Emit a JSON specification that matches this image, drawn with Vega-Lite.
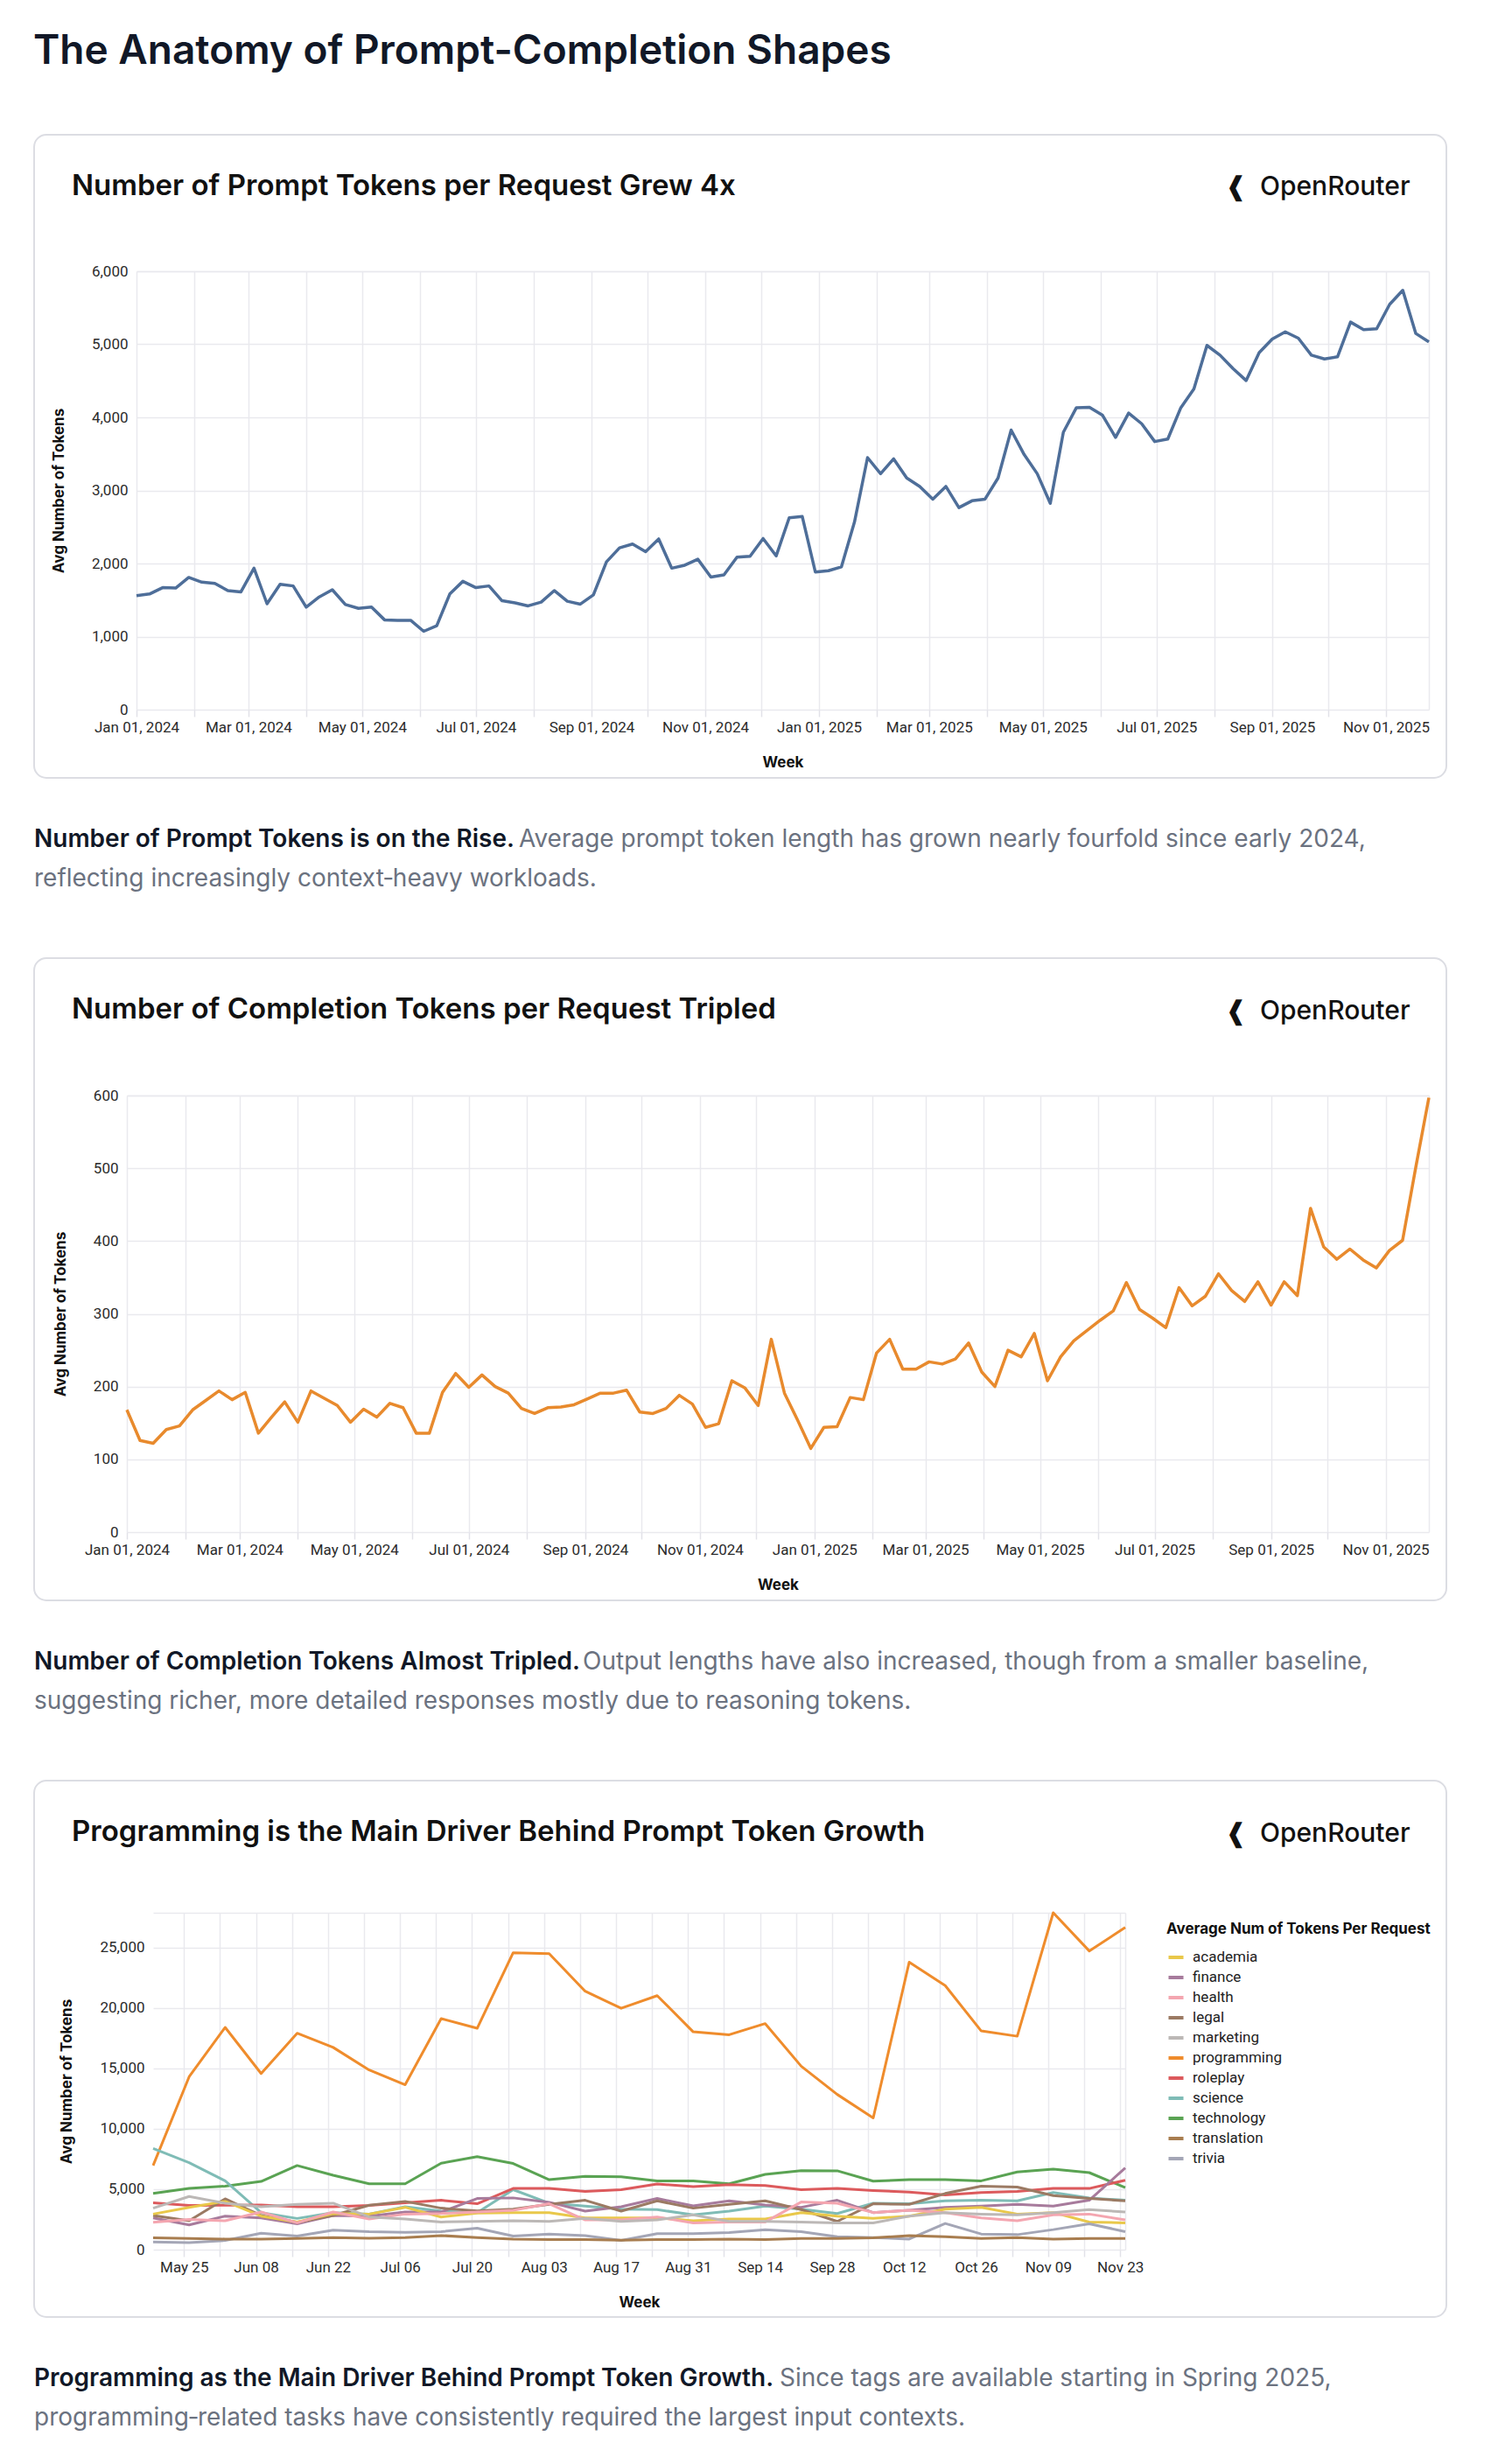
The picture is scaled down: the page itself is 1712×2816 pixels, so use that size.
{
  "$schema": "https://vega.github.io/schema/vega-lite/v6.json",
  "background": "white",
  "padding": {"left": 38, "top": 36, "right": 20, "bottom": 8},
  "title": {"text": "The Anatomy of Prompt-Completion Shapes", "anchor": "start", "frame": "bounds", "fontSize": 46, "font": "Inter", "fontWeight": 600, "color": "#111827", "offset": 70},
  "spacing": 56,
  "resolve": {"scale": {"color": "independent"}, "legend": {"color": "independent"}},
  "datasets": {
    "prompt": [
      {"week":"2024-01-01","tokens":1560},{"week":"2024-01-08","tokens":1583},{"week":"2024-01-15","tokens":1670},{"week":"2024-01-22","tokens":1664},{"week":"2024-01-29","tokens":1809},
      {"week":"2024-02-05","tokens":1745},{"week":"2024-02-12","tokens":1728},{"week":"2024-02-19","tokens":1629},{"week":"2024-02-26","tokens":1612},
      {"week":"2024-03-04","tokens":1936},{"week":"2024-03-11","tokens":1449},{"week":"2024-03-18","tokens":1716},{"week":"2024-03-25","tokens":1693},
      {"week":"2024-04-01","tokens":1403},{"week":"2024-04-08","tokens":1542},{"week":"2024-04-15","tokens":1641},{"week":"2024-04-22","tokens":1438},{"week":"2024-04-29","tokens":1386},
      {"week":"2024-05-06","tokens":1403},{"week":"2024-05-13","tokens":1229},{"week":"2024-05-20","tokens":1223},{"week":"2024-05-27","tokens":1223},
      {"week":"2024-06-03","tokens":1072},{"week":"2024-06-10","tokens":1148},{"week":"2024-06-17","tokens":1583},{"week":"2024-06-24","tokens":1756},
      {"week":"2024-07-01","tokens":1670},{"week":"2024-07-08","tokens":1693},{"week":"2024-07-15","tokens":1490},{"week":"2024-07-22","tokens":1461},{"week":"2024-07-29","tokens":1420},
      {"week":"2024-08-05","tokens":1472},{"week":"2024-08-12","tokens":1629},{"week":"2024-08-19","tokens":1484},{"week":"2024-08-26","tokens":1444},
      {"week":"2024-09-02","tokens":1571},{"week":"2024-09-09","tokens":2023},{"week":"2024-09-16","tokens":2214},{"week":"2024-09-23","tokens":2267},{"week":"2024-09-30","tokens":2162},
      {"week":"2024-10-07","tokens":2336},{"week":"2024-10-14","tokens":1936},{"week":"2024-10-21","tokens":1977},{"week":"2024-10-28","tokens":2058},
      {"week":"2024-11-04","tokens":1815},{"week":"2024-11-11","tokens":1844},{"week":"2024-11-18","tokens":2087},{"week":"2024-11-25","tokens":2099},
      {"week":"2024-12-02","tokens":2342},{"week":"2024-12-09","tokens":2104},{"week":"2024-12-16","tokens":2626},{"week":"2024-12-23","tokens":2643},{"week":"2024-12-30","tokens":1884},
      {"week":"2025-01-06","tokens":1901},{"week":"2025-01-13","tokens":1954},{"week":"2025-01-20","tokens":2568},{"week":"2025-01-27","tokens":3449},
      {"week":"2025-02-03","tokens":3229},{"week":"2025-02-10","tokens":3432},{"week":"2025-02-17","tokens":3171},{"week":"2025-02-24","tokens":3055},
      {"week":"2025-03-03","tokens":2881},{"week":"2025-03-10","tokens":3055},{"week":"2025-03-17","tokens":2765},{"week":"2025-03-24","tokens":2858},{"week":"2025-03-31","tokens":2881},
      {"week":"2025-04-07","tokens":3171},{"week":"2025-04-14","tokens":3826},{"week":"2025-04-21","tokens":3490},{"week":"2025-04-28","tokens":3229},
      {"week":"2025-05-05","tokens":2823},{"week":"2025-05-12","tokens":3797},{"week":"2025-05-19","tokens":4133},{"week":"2025-05-26","tokens":4139},
      {"week":"2025-06-02","tokens":4029},{"week":"2025-06-09","tokens":3727},{"week":"2025-06-16","tokens":4058},{"week":"2025-06-23","tokens":3913},{"week":"2025-06-30","tokens":3669},
      {"week":"2025-07-07","tokens":3704},{"week":"2025-07-14","tokens":4133},{"week":"2025-07-21","tokens":4388},{"week":"2025-07-28","tokens":4985},
      {"week":"2025-08-04","tokens":4852},{"week":"2025-08-11","tokens":4667},{"week":"2025-08-18","tokens":4504},{"week":"2025-08-25","tokens":4887},
      {"week":"2025-09-01","tokens":5072},{"week":"2025-09-08","tokens":5171},{"week":"2025-09-15","tokens":5084},{"week":"2025-09-22","tokens":4852},{"week":"2025-09-29","tokens":4800},
      {"week":"2025-10-06","tokens":4829},{"week":"2025-10-13","tokens":5304},{"week":"2025-10-20","tokens":5200},{"week":"2025-10-27","tokens":5212},
      {"week":"2025-11-03","tokens":5548},{"week":"2025-11-10","tokens":5739},{"week":"2025-11-17","tokens":5148},{"week":"2025-11-24","tokens":5032}
    ],
    "completion": [
      {"week":"2024-01-01","tokens":168},{"week":"2024-01-08","tokens":126},{"week":"2024-01-15","tokens":122},{"week":"2024-01-22","tokens":141},{"week":"2024-01-29","tokens":146},
      {"week":"2024-02-05","tokens":168},{"week":"2024-02-12","tokens":181},{"week":"2024-02-19","tokens":194},{"week":"2024-02-26","tokens":182},
      {"week":"2024-03-04","tokens":192},{"week":"2024-03-11","tokens":136},{"week":"2024-03-18","tokens":158},{"week":"2024-03-25","tokens":179},
      {"week":"2024-04-01","tokens":151},{"week":"2024-04-08","tokens":194},{"week":"2024-04-15","tokens":184},{"week":"2024-04-22","tokens":174},{"week":"2024-04-29","tokens":151},
      {"week":"2024-05-06","tokens":169},{"week":"2024-05-13","tokens":158},{"week":"2024-05-20","tokens":177},{"week":"2024-05-27","tokens":171},
      {"week":"2024-06-03","tokens":136},{"week":"2024-06-10","tokens":136},{"week":"2024-06-17","tokens":192},{"week":"2024-06-24","tokens":218},
      {"week":"2024-07-01","tokens":199},{"week":"2024-07-08","tokens":216},{"week":"2024-07-15","tokens":200},{"week":"2024-07-22","tokens":191},{"week":"2024-07-29","tokens":170},
      {"week":"2024-08-05","tokens":163},{"week":"2024-08-12","tokens":171},{"week":"2024-08-19","tokens":172},{"week":"2024-08-26","tokens":175},
      {"week":"2024-09-02","tokens":183},{"week":"2024-09-09","tokens":191},{"week":"2024-09-16","tokens":191},{"week":"2024-09-23","tokens":195},{"week":"2024-09-30","tokens":165},
      {"week":"2024-10-07","tokens":163},{"week":"2024-10-14","tokens":170},{"week":"2024-10-21","tokens":188},{"week":"2024-10-28","tokens":176},
      {"week":"2024-11-04","tokens":144},{"week":"2024-11-11","tokens":149},{"week":"2024-11-18","tokens":208},{"week":"2024-11-25","tokens":198},
      {"week":"2024-12-02","tokens":174},{"week":"2024-12-09","tokens":265},{"week":"2024-12-16","tokens":191},{"week":"2024-12-23","tokens":154},{"week":"2024-12-30","tokens":115},
      {"week":"2025-01-06","tokens":144},{"week":"2025-01-13","tokens":145},{"week":"2025-01-20","tokens":185},{"week":"2025-01-27","tokens":182},
      {"week":"2025-02-03","tokens":246},{"week":"2025-02-10","tokens":265},{"week":"2025-02-17","tokens":224},{"week":"2025-02-24","tokens":224},
      {"week":"2025-03-03","tokens":234},{"week":"2025-03-10","tokens":231},{"week":"2025-03-17","tokens":238},{"week":"2025-03-24","tokens":260},{"week":"2025-03-31","tokens":220},
      {"week":"2025-04-07","tokens":200},{"week":"2025-04-14","tokens":250},{"week":"2025-04-21","tokens":241},{"week":"2025-04-28","tokens":273},
      {"week":"2025-05-05","tokens":208},{"week":"2025-05-12","tokens":241},{"week":"2025-05-19","tokens":263},{"week":"2025-05-26","tokens":277},
      {"week":"2025-06-02","tokens":291},{"week":"2025-06-09","tokens":304},{"week":"2025-06-16","tokens":343},{"week":"2025-06-23","tokens":306},{"week":"2025-06-30","tokens":294},
      {"week":"2025-07-07","tokens":281},{"week":"2025-07-14","tokens":336},{"week":"2025-07-21","tokens":311},{"week":"2025-07-28","tokens":324},
      {"week":"2025-08-04","tokens":355},{"week":"2025-08-11","tokens":332},{"week":"2025-08-18","tokens":317},{"week":"2025-08-25","tokens":344},
      {"week":"2025-09-01","tokens":312},{"week":"2025-09-08","tokens":344},{"week":"2025-09-15","tokens":325},{"week":"2025-09-22","tokens":445},{"week":"2025-09-29","tokens":392},
      {"week":"2025-10-06","tokens":375},{"week":"2025-10-13","tokens":389},{"week":"2025-10-20","tokens":374},{"week":"2025-10-27","tokens":363},
      {"week":"2025-11-03","tokens":387},{"week":"2025-11-10","tokens":401},{"week":"2025-11-17","tokens":501},{"week":"2025-11-24","tokens":597}
    ],
    "category": [
      {"w":"2025-05-19","c":"programming","v":6955},{"w":"2025-05-26","c":"programming","v":14300},{"w":"2025-06-02","c":"programming","v":18385},{"w":"2025-06-09","c":"programming","v":14567},{"w":"2025-06-16","c":"programming","v":17900},{"w":"2025-06-23","c":"programming","v":16730},{"w":"2025-06-30","c":"programming","v":14860},{"w":"2025-07-07","c":"programming","v":13640},{"w":"2025-07-14","c":"programming","v":19115},{"w":"2025-07-21","c":"programming","v":18310},{"w":"2025-07-28","c":"programming","v":24560},{"w":"2025-08-04","c":"programming","v":24490},{"w":"2025-08-11","c":"programming","v":21375},{"w":"2025-08-18","c":"programming","v":19965},{"w":"2025-08-25","c":"programming","v":21010},{"w":"2025-09-01","c":"programming","v":18020},{"w":"2025-09-08","c":"programming","v":17780},{"w":"2025-09-15","c":"programming","v":18700},{"w":"2025-09-22","c":"programming","v":15175},{"w":"2025-09-29","c":"programming","v":12840},{"w":"2025-10-06","c":"programming","v":10895},{"w":"2025-10-13","c":"programming","v":23785},{"w":"2025-10-20","c":"programming","v":21840},{"w":"2025-10-27","c":"programming","v":18090},{"w":"2025-11-03","c":"programming","v":17655},{"w":"2025-11-10","c":"programming","v":27870},{"w":"2025-11-17","c":"programming","v":24710},{"w":"2025-11-24","c":"programming","v":26650},
      {"w":"2025-05-19","c":"technology","v":4645},{"w":"2025-05-26","c":"technology","v":5060},{"w":"2025-06-02","c":"technology","v":5250},{"w":"2025-06-09","c":"technology","v":5640},{"w":"2025-06-16","c":"technology","v":6955},{"w":"2025-06-23","c":"technology","v":6150},{"w":"2025-06-30","c":"technology","v":5450},{"w":"2025-07-07","c":"technology","v":5450},{"w":"2025-07-14","c":"technology","v":7150},{"w":"2025-07-21","c":"technology","v":7685},{"w":"2025-07-28","c":"technology","v":7125},{"w":"2025-08-04","c":"technology","v":5790},{"w":"2025-08-11","c":"technology","v":6055},{"w":"2025-08-18","c":"technology","v":6030},{"w":"2025-08-25","c":"technology","v":5690},{"w":"2025-09-01","c":"technology","v":5690},{"w":"2025-09-08","c":"technology","v":5450},{"w":"2025-09-15","c":"technology","v":6225},{"w":"2025-09-22","c":"technology","v":6540},{"w":"2025-09-29","c":"technology","v":6520},{"w":"2025-10-06","c":"technology","v":5665},{"w":"2025-10-13","c":"technology","v":5790},{"w":"2025-10-20","c":"technology","v":5790},{"w":"2025-10-27","c":"technology","v":5690},{"w":"2025-11-03","c":"technology","v":6420},{"w":"2025-11-10","c":"technology","v":6665},{"w":"2025-11-17","c":"technology","v":6370},{"w":"2025-11-24","c":"technology","v":5130},
      {"w":"2025-05-19","c":"science","v":8365},{"w":"2025-05-26","c":"science","v":7200},{"w":"2025-06-02","c":"science","v":5690},{"w":"2025-06-09","c":"science","v":3065},{"w":"2025-06-16","c":"science","v":2580},{"w":"2025-06-23","c":"science","v":3065},{"w":"2025-06-30","c":"science","v":2940},{"w":"2025-07-07","c":"science","v":3550},{"w":"2025-07-14","c":"science","v":3185},{"w":"2025-07-21","c":"science","v":3065},{"w":"2025-07-28","c":"science","v":4960},{"w":"2025-08-04","c":"science","v":3840},{"w":"2025-08-11","c":"science","v":3600},{"w":"2025-08-18","c":"science","v":3355},{"w":"2025-08-25","c":"science","v":3310},{"w":"2025-09-01","c":"science","v":2870},{"w":"2025-09-08","c":"science","v":3185},{"w":"2025-09-15","c":"science","v":3600},{"w":"2025-09-22","c":"science","v":3355},{"w":"2025-09-29","c":"science","v":2990},{"w":"2025-10-06","c":"science","v":3840},{"w":"2025-10-13","c":"science","v":3795},{"w":"2025-10-20","c":"science","v":4035},{"w":"2025-10-27","c":"science","v":4085},{"w":"2025-11-03","c":"science","v":4035},{"w":"2025-11-10","c":"science","v":4720},{"w":"2025-11-17","c":"science","v":4280},{"w":"2025-11-24","c":"science","v":4085},
      {"w":"2025-05-19","c":"roleplay","v":3865},{"w":"2025-05-26","c":"roleplay","v":3650},{"w":"2025-06-02","c":"roleplay","v":3670},{"w":"2025-06-09","c":"roleplay","v":3695},{"w":"2025-06-16","c":"roleplay","v":3550},{"w":"2025-06-23","c":"roleplay","v":3550},{"w":"2025-06-30","c":"roleplay","v":3650},{"w":"2025-07-07","c":"roleplay","v":3865},{"w":"2025-07-14","c":"roleplay","v":4085},{"w":"2025-07-21","c":"roleplay","v":3795},{"w":"2025-07-28","c":"roleplay","v":5060},{"w":"2025-08-04","c":"roleplay","v":5060},{"w":"2025-08-11","c":"roleplay","v":4815},{"w":"2025-08-18","c":"roleplay","v":4960},{"w":"2025-08-25","c":"roleplay","v":5425},{"w":"2025-09-01","c":"roleplay","v":5205},{"w":"2025-09-08","c":"roleplay","v":5375},{"w":"2025-09-15","c":"roleplay","v":5300},{"w":"2025-09-22","c":"roleplay","v":4960},{"w":"2025-09-29","c":"roleplay","v":5060},{"w":"2025-10-06","c":"roleplay","v":4890},{"w":"2025-10-13","c":"roleplay","v":4765},{"w":"2025-10-20","c":"roleplay","v":4525},{"w":"2025-10-27","c":"roleplay","v":4720},{"w":"2025-11-03","c":"roleplay","v":4815},{"w":"2025-11-10","c":"roleplay","v":5060},{"w":"2025-11-17","c":"roleplay","v":5060},{"w":"2025-11-24","c":"roleplay","v":5740},
      {"w":"2025-05-19","c":"finance","v":2625},{"w":"2025-05-26","c":"finance","v":2040},{"w":"2025-06-02","c":"finance","v":2770},{"w":"2025-06-09","c":"finance","v":2625},{"w":"2025-06-16","c":"finance","v":2140},{"w":"2025-06-23","c":"finance","v":2820},{"w":"2025-06-30","c":"finance","v":2770},{"w":"2025-07-07","c":"finance","v":3115},{"w":"2025-07-14","c":"finance","v":3115},{"w":"2025-07-21","c":"finance","v":4230},{"w":"2025-07-28","c":"finance","v":4280},{"w":"2025-08-04","c":"finance","v":3915},{"w":"2025-08-11","c":"finance","v":3185},{"w":"2025-08-18","c":"finance","v":3550},{"w":"2025-08-25","c":"finance","v":4230},{"w":"2025-09-01","c":"finance","v":3625},{"w":"2025-09-08","c":"finance","v":4035},{"w":"2025-09-15","c":"finance","v":3695},{"w":"2025-09-22","c":"finance","v":3500},{"w":"2025-09-29","c":"finance","v":4085},{"w":"2025-10-06","c":"finance","v":3065},{"w":"2025-10-13","c":"finance","v":3260},{"w":"2025-10-20","c":"finance","v":3500},{"w":"2025-10-27","c":"finance","v":3600},{"w":"2025-11-03","c":"finance","v":3745},{"w":"2025-11-10","c":"finance","v":3600},{"w":"2025-11-17","c":"finance","v":4085},{"w":"2025-11-24","c":"finance","v":6760},
      {"w":"2025-05-19","c":"legal","v":2820},{"w":"2025-05-26","c":"legal","v":2385},{"w":"2025-06-02","c":"legal","v":4205},{"w":"2025-06-09","c":"legal","v":2820},{"w":"2025-06-16","c":"legal","v":2260},{"w":"2025-06-23","c":"legal","v":2820},{"w":"2025-06-30","c":"legal","v":3670},{"w":"2025-07-07","c":"legal","v":3990},{"w":"2025-07-14","c":"legal","v":3430},{"w":"2025-07-21","c":"legal","v":3210},{"w":"2025-07-28","c":"legal","v":3355},{"w":"2025-08-04","c":"legal","v":3745},{"w":"2025-08-11","c":"legal","v":4085},{"w":"2025-08-18","c":"legal","v":3185},{"w":"2025-08-25","c":"legal","v":4035},{"w":"2025-09-01","c":"legal","v":3430},{"w":"2025-09-08","c":"legal","v":3745},{"w":"2025-09-15","c":"legal","v":4035},{"w":"2025-09-22","c":"legal","v":3310},{"w":"2025-09-29","c":"legal","v":2335},{"w":"2025-10-06","c":"legal","v":3795},{"w":"2025-10-13","c":"legal","v":3745},{"w":"2025-10-20","c":"legal","v":4645},{"w":"2025-10-27","c":"legal","v":5250},{"w":"2025-11-03","c":"legal","v":5180},{"w":"2025-11-10","c":"legal","v":4475},{"w":"2025-11-17","c":"legal","v":4230},{"w":"2025-11-24","c":"legal","v":4035},
      {"w":"2025-05-19","c":"academia","v":2940},{"w":"2025-05-26","c":"academia","v":3500},{"w":"2025-06-02","c":"academia","v":3990},{"w":"2025-06-09","c":"academia","v":2770},{"w":"2025-06-16","c":"academia","v":2285},{"w":"2025-06-23","c":"academia","v":2990},{"w":"2025-06-30","c":"academia","v":2940},{"w":"2025-07-07","c":"academia","v":3500},{"w":"2025-07-14","c":"academia","v":2700},{"w":"2025-07-21","c":"academia","v":3015},{"w":"2025-07-28","c":"academia","v":3065},{"w":"2025-08-04","c":"academia","v":3065},{"w":"2025-08-11","c":"academia","v":2625},{"w":"2025-08-18","c":"academia","v":2625},{"w":"2025-08-25","c":"academia","v":2625},{"w":"2025-09-01","c":"academia","v":2385},{"w":"2025-09-08","c":"academia","v":2530},{"w":"2025-09-15","c":"academia","v":2530},{"w":"2025-09-22","c":"academia","v":3065},{"w":"2025-09-29","c":"academia","v":2770},{"w":"2025-10-06","c":"academia","v":2580},{"w":"2025-10-13","c":"academia","v":2770},{"w":"2025-10-20","c":"academia","v":3355},{"w":"2025-10-27","c":"academia","v":3500},{"w":"2025-11-03","c":"academia","v":2940},{"w":"2025-11-10","c":"academia","v":3065},{"w":"2025-11-17","c":"academia","v":2285},{"w":"2025-11-24","c":"academia","v":2215},
      {"w":"2025-05-19","c":"health","v":2260},{"w":"2025-05-26","c":"health","v":2505},{"w":"2025-06-02","c":"health","v":2385},{"w":"2025-06-09","c":"health","v":3115},{"w":"2025-06-16","c":"health","v":2215},{"w":"2025-06-23","c":"health","v":3115},{"w":"2025-06-30","c":"health","v":2530},{"w":"2025-07-07","c":"health","v":2940},{"w":"2025-07-14","c":"health","v":2990},{"w":"2025-07-21","c":"health","v":3115},{"w":"2025-07-28","c":"health","v":3260},{"w":"2025-08-04","c":"health","v":3795},{"w":"2025-08-11","c":"health","v":2455},{"w":"2025-08-18","c":"health","v":2455},{"w":"2025-08-25","c":"health","v":2700},{"w":"2025-09-01","c":"health","v":2215},{"w":"2025-09-08","c":"health","v":2285},{"w":"2025-09-15","c":"health","v":2285},{"w":"2025-09-22","c":"health","v":3940},{"w":"2025-09-29","c":"health","v":3840},{"w":"2025-10-06","c":"health","v":3065},{"w":"2025-10-13","c":"health","v":3260},{"w":"2025-10-20","c":"health","v":3065},{"w":"2025-10-27","c":"health","v":2625},{"w":"2025-11-03","c":"health","v":2385},{"w":"2025-11-10","c":"health","v":2870},{"w":"2025-11-17","c":"health","v":2940},{"w":"2025-11-24","c":"health","v":2455},
      {"w":"2025-05-19","c":"marketing","v":3430},{"w":"2025-05-26","c":"marketing","v":4400},{"w":"2025-06-02","c":"marketing","v":3840},{"w":"2025-06-09","c":"marketing","v":3550},{"w":"2025-06-16","c":"marketing","v":3745},{"w":"2025-06-23","c":"marketing","v":3840},{"w":"2025-06-30","c":"marketing","v":2700},{"w":"2025-07-07","c":"marketing","v":2530},{"w":"2025-07-14","c":"marketing","v":2285},{"w":"2025-07-21","c":"marketing","v":2335},{"w":"2025-07-28","c":"marketing","v":2385},{"w":"2025-08-04","c":"marketing","v":2335},{"w":"2025-08-11","c":"marketing","v":2580},{"w":"2025-08-18","c":"marketing","v":2335},{"w":"2025-08-25","c":"marketing","v":2455},{"w":"2025-09-01","c":"marketing","v":2870},{"w":"2025-09-08","c":"marketing","v":2335},{"w":"2025-09-15","c":"marketing","v":2335},{"w":"2025-09-22","c":"marketing","v":2285},{"w":"2025-09-29","c":"marketing","v":2215},{"w":"2025-10-06","c":"marketing","v":2215},{"w":"2025-10-13","c":"marketing","v":2770},{"w":"2025-10-20","c":"marketing","v":3065},{"w":"2025-10-27","c":"marketing","v":2940},{"w":"2025-11-03","c":"marketing","v":2870},{"w":"2025-11-10","c":"marketing","v":3065},{"w":"2025-11-17","c":"marketing","v":3310},{"w":"2025-11-24","c":"marketing","v":3115},
      {"w":"2025-05-19","c":"trivia","v":630},{"w":"2025-05-26","c":"trivia","v":585},{"w":"2025-06-02","c":"trivia","v":755},{"w":"2025-06-09","c":"trivia","v":1360},{"w":"2025-06-16","c":"trivia","v":1120},{"w":"2025-06-23","c":"trivia","v":1605},{"w":"2025-06-30","c":"trivia","v":1485},{"w":"2025-07-07","c":"trivia","v":1435},{"w":"2025-07-14","c":"trivia","v":1485},{"w":"2025-07-21","c":"trivia","v":1775},{"w":"2025-07-28","c":"trivia","v":1120},{"w":"2025-08-04","c":"trivia","v":1290},{"w":"2025-08-11","c":"trivia","v":1165},{"w":"2025-08-18","c":"trivia","v":755},{"w":"2025-08-25","c":"trivia","v":1315},{"w":"2025-09-01","c":"trivia","v":1315},{"w":"2025-09-08","c":"trivia","v":1410},{"w":"2025-09-15","c":"trivia","v":1655},{"w":"2025-09-22","c":"trivia","v":1485},{"w":"2025-09-29","c":"trivia","v":1070},{"w":"2025-10-06","c":"trivia","v":995},{"w":"2025-10-13","c":"trivia","v":875},{"w":"2025-10-20","c":"trivia","v":2165},{"w":"2025-10-27","c":"trivia","v":1290},{"w":"2025-11-03","c":"trivia","v":1240},{"w":"2025-11-10","c":"trivia","v":1655},{"w":"2025-11-17","c":"trivia","v":2140},{"w":"2025-11-24","c":"trivia","v":1485},
      {"w":"2025-05-19","c":"translation","v":970},{"w":"2025-05-26","c":"translation","v":925},{"w":"2025-06-02","c":"translation","v":875},{"w":"2025-06-09","c":"translation","v":875},{"w":"2025-06-16","c":"translation","v":925},{"w":"2025-06-23","c":"translation","v":995},{"w":"2025-06-30","c":"translation","v":950},{"w":"2025-07-07","c":"translation","v":995},{"w":"2025-07-14","c":"translation","v":1165},{"w":"2025-07-21","c":"translation","v":995},{"w":"2025-07-28","c":"translation","v":875},{"w":"2025-08-04","c":"translation","v":825},{"w":"2025-08-11","c":"translation","v":825},{"w":"2025-08-18","c":"translation","v":780},{"w":"2025-08-25","c":"translation","v":825},{"w":"2025-09-01","c":"translation","v":825},{"w":"2025-09-08","c":"translation","v":875},{"w":"2025-09-15","c":"translation","v":825},{"w":"2025-09-22","c":"translation","v":925},{"w":"2025-09-29","c":"translation","v":925},{"w":"2025-10-06","c":"translation","v":970},{"w":"2025-10-13","c":"translation","v":1165},{"w":"2025-10-20","c":"translation","v":1070},{"w":"2025-10-27","c":"translation","v":925},{"w":"2025-11-03","c":"translation","v":995},{"w":"2025-11-10","c":"translation","v":875},{"w":"2025-11-17","c":"translation","v":925},{"w":"2025-11-24","c":"translation","v":925}
    ]
  },
  "vconcat": [
    {
      "width": 1614, "height": 735,
      "view": {"stroke": "#dcdde3", "strokeWidth": 2, "cornerRadius": 14, "fill": "white"},
      "title": {"text": "Number of Prompt Tokens per Request Grew 4x", "anchor": "start", "frame": "group", "dx": 43, "offset": -76, "fontSize": 33, "font": "Inter", "fontWeight": 600, "color": "#111111"},
      "data": {"name": "prompt"},
      "layer": [
        {
          "mark": {"type": "line", "color": "#4e6e99", "strokeWidth": 3.5, "strokeJoin": "round"},
          "encoding": {
            "x": {"field": "week", "type": "temporal", "title": "Week",
              "scale": {"type": "utc", "nice": false, "range": [117, 1594]},
              "axis": {"orient": "bottom", "offset": -78, "grid": false, "domain": false, "tickCount": {"interval": "month", "step": 1}, "labelExpr": "utcmonth(datum.value) % 2 == 0 ? utcFormat(datum.value, '%b %d, %Y') : ''", "labelOverlap": false, "labelFlush": false, "tickSize": 8, "labelPadding": 4, "titlePadding": 24}},
            "y": {"field": "tokens", "type": "quantitative", "title": "Avg Number of Tokens",
              "scale": {"domain": [0, 6000], "nice": false, "range": [657, 156]},
              "axis": {"orient": "left", "offset": -117, "tickCount": 6, "format": ",d", "ticks": false, "domain": false, "grid": true, "labelPadding": 10, "titlePadding": 28}}
          }
        },
        {
          "mark": {"type": "line", "opacity": 0},
          "encoding": {
            "x": {"field": "week", "type": "temporal", "title": "\u2770\u2002OpenRouter",
              "axis": {"orient": "top", "offset": -156, "grid": true, "labels": false, "ticks": false, "domain": true, "tickCount": {"interval": "month", "step": 1}, "titleX": 1572, "titleAlign": "right", "titleBaseline": "middle", "titlePadding": 97, "titleFontSize": 30, "titleFontWeight": 500}},
            "y": {"field": "tokens", "type": "quantitative",
              "axis": {"orient": "right", "offset": -20, "labels": false, "ticks": false, "grid": false, "domain": true, "title": null}}
          }
        }
      ],
      "resolve": {"axis": {"x": "independent", "y": "independent"}}
    },
    {
      "bounds": "flush",
      "spacing": 0,
      "hconcat": [
        {
          "width": 554, "height": 19,
          "view": {"stroke": null},
          "data": {"values": [{}]},
          "mark": {"type": "point", "opacity": 0},
          "title": {"text": "Number of Prompt Tokens is on the Rise.", "subtitle": "reflecting increasingly context\u2011heavy workloads.", "anchor": "start", "frame": "group", "offset": 0, "fontSize": 28, "font": "Inter", "fontWeight": 600, "color": "#111827", "subtitleFont": "Inter", "subtitleFontSize": 28, "subtitleFontWeight": 400, "subtitleColor": "#6b7280", "subtitlePadding": 17}
        },
        {
          "width": 1060, "height": 19,
          "view": {"stroke": null},
          "data": {"values": [{}]},
          "mark": {"type": "point", "opacity": 0},
          "title": {"text": "Average prompt token length has grown nearly fourfold since early 2024,", "anchor": "start", "frame": "group", "offset": 45, "fontSize": 28, "font": "Inter", "fontWeight": 400, "color": "#6b7280"}
        }
      ]
    },
    {
      "width": 1614, "height": 734,
      "view": {"stroke": "#dcdde3", "strokeWidth": 2, "cornerRadius": 14, "fill": "white"},
      "title": {"text": "Number of Completion Tokens per Request Tripled", "anchor": "start", "frame": "group", "dx": 43, "offset": -76, "fontSize": 33, "font": "Inter", "fontWeight": 600, "color": "#111111"},
      "data": {"name": "completion"},
      "layer": [
        {
          "mark": {"type": "line", "color": "#e88a2d", "strokeWidth": 3.5, "strokeJoin": "round"},
          "encoding": {
            "x": {"field": "week", "type": "temporal", "title": "Week",
              "scale": {"type": "utc", "nice": false, "range": [106, 1594]},
              "axis": {"orient": "bottom", "offset": -78, "grid": false, "domain": false, "tickCount": {"interval": "month", "step": 1}, "labelExpr": "utcmonth(datum.value) % 2 == 0 ? utcFormat(datum.value, '%b %d, %Y') : ''", "labelOverlap": false, "labelFlush": false, "tickSize": 8, "labelPadding": 4, "titlePadding": 24}},
            "y": {"field": "tokens", "type": "quantitative", "title": "Avg Number of Tokens",
              "scale": {"domain": [0, 600], "nice": false, "range": [656, 157]},
              "axis": {"orient": "left", "offset": -106, "tickCount": 6, "format": ",d", "ticks": false, "domain": false, "grid": true, "labelPadding": 10, "titlePadding": 28}}
          }
        },
        {
          "mark": {"type": "line", "opacity": 0},
          "encoding": {
            "x": {"field": "week", "type": "temporal", "title": "\u2770\u2002OpenRouter",
              "axis": {"orient": "top", "offset": -157, "grid": true, "labels": false, "ticks": false, "domain": true, "tickCount": {"interval": "month", "step": 1}, "titleX": 1572, "titleAlign": "right", "titleBaseline": "middle", "titlePadding": 97, "titleFontSize": 30, "titleFontWeight": 500}},
            "y": {"field": "tokens", "type": "quantitative",
              "axis": {"orient": "right", "offset": -20, "labels": false, "ticks": false, "grid": false, "domain": true, "title": null}}
          }
        }
      ],
      "resolve": {"axis": {"x": "independent", "y": "independent"}}
    },
    {
      "bounds": "flush",
      "spacing": 0,
      "hconcat": [
        {
          "width": 627, "height": 19,
          "view": {"stroke": null},
          "data": {"values": [{}]},
          "mark": {"type": "point", "opacity": 0},
          "title": {"text": "Number of Completion Tokens Almost Tripled.", "subtitle": "suggesting richer, more detailed responses mostly due to reasoning tokens.", "anchor": "start", "frame": "group", "offset": 0, "fontSize": 28, "font": "Inter", "fontWeight": 600, "color": "#111827", "subtitleFont": "Inter", "subtitleFontSize": 28, "subtitleFontWeight": 400, "subtitleColor": "#6b7280", "subtitlePadding": 17}
        },
        {
          "width": 987, "height": 19,
          "view": {"stroke": null},
          "data": {"values": [{}]},
          "mark": {"type": "point", "opacity": 0},
          "title": {"text": "Output lengths have also increased, though from a smaller baseline,", "anchor": "start", "frame": "group", "offset": 45, "fontSize": 28, "font": "Inter", "fontWeight": 400, "color": "#6b7280"}
        }
      ]
    },
    {
      "width": 1614, "height": 613,
      "view": {"stroke": "#dcdde3", "strokeWidth": 2, "cornerRadius": 14, "fill": "white"},
      "title": {"text": "Programming is the Main Driver Behind Prompt Token Growth", "anchor": "start", "frame": "group", "dx": 43, "offset": -76, "fontSize": 33, "font": "Inter", "fontWeight": 600, "color": "#111111"},
      "data": {"name": "category"},
      "layer": [
        {
          "mark": {"type": "line", "strokeWidth": 3, "strokeJoin": "round"},
          "encoding": {
            "x": {"field": "w", "type": "temporal", "title": "Week",
              "scale": {"type": "utc", "nice": false, "range": [136, 1247]},
              "axis": {"orient": "bottom", "offset": -77, "grid": false, "domain": false, "tickCount": {"interval": "week", "step": 1}, "labelExpr": "round((datum.value - utc(2025, 4, 25)) / 604800000) % 2 == 0 ? utcFormat(datum.value, '%b %d') : ''", "labelOverlap": false, "labelFlush": false, "tickSize": 8, "labelPadding": 4, "titlePadding": 24}},
            "y": {"field": "v", "type": "quantitative", "title": "Avg Number of Tokens",
              "scale": {"nice": false, "range": [536, 151]},
              "axis": {"orient": "left", "offset": -136, "tickCount": 6, "format": ",d", "ticks": false, "domain": false, "grid": true, "labelPadding": 10, "titlePadding": 28}},
            "color": {"field": "c", "type": "nominal", "title": "Average Num of Tokens Per Request",
              "scale": {"domain": ["academia", "finance", "health", "legal", "marketing", "programming", "roleplay", "science", "technology", "translation", "trivia"],
                        "range": ["#e9c84a", "#a77b9c", "#f4a6b0", "#9b7a63", "#bcb8b6", "#ef8c2c", "#dc5a5c", "#7fbcb6", "#5aa353", "#a87d4f", "#a4a6b6"]},
              "legend": {"orient": "none", "legendX": 1294, "legendY": 162, "symbolType": "stroke", "symbolStrokeWidth": 4, "symbolSize": 290, "labelFont": "Roboto", "labelFontSize": 17, "labelColor": "#222222", "titleFont": "Inter", "titleFontSize": 17, "titleFontWeight": 700, "titleColor": "#111111", "titlePadding": 12, "rowPadding": 4, "labelOffset": 8, "titleLimit": 400}}
          }
        },
        {
          "mark": {"type": "line", "opacity": 0},
          "encoding": {
            "x": {"field": "w", "type": "temporal", "title": "\u2770\u2002OpenRouter",
              "axis": {"orient": "top", "offset": -151, "grid": true, "labels": false, "ticks": false, "domain": true, "tickCount": {"interval": "week", "step": 1}, "titleX": 1572, "titleAlign": "right", "titleBaseline": "middle", "titlePadding": 91, "titleFontSize": 30, "titleFontWeight": 500}},
            "y": {"field": "v", "type": "quantitative",
              "axis": {"orient": "right", "offset": -367, "labels": false, "ticks": false, "grid": false, "domain": true, "title": null}},
            "detail": {"field": "c", "type": "nominal"}
          }
        }
      ],
      "resolve": {"axis": {"x": "independent", "y": "independent"}}
    },
    {
      "bounds": "flush",
      "spacing": 0,
      "hconcat": [
        {
          "width": 852, "height": 19,
          "view": {"stroke": null},
          "data": {"values": [{}]},
          "mark": {"type": "point", "opacity": 0},
          "title": {"text": "Programming as the Main Driver Behind Prompt Token Growth.", "subtitle": "programming\u2011related tasks have consistently required the largest input contexts.", "anchor": "start", "frame": "group", "offset": 0, "fontSize": 28, "font": "Inter", "fontWeight": 600, "color": "#111827", "subtitleFont": "Inter", "subtitleFontSize": 28, "subtitleFontWeight": 400, "subtitleColor": "#6b7280", "subtitlePadding": 17}
        },
        {
          "width": 762, "height": 19,
          "view": {"stroke": null},
          "data": {"values": [{}]},
          "mark": {"type": "point", "opacity": 0},
          "title": {"text": "Since tags are available starting in Spring 2025,", "anchor": "start", "frame": "group", "offset": 45, "fontSize": 28, "font": "Inter", "fontWeight": 400, "color": "#6b7280"}
        }
      ]
    }
  ],
  "config": {
    "font": "Inter",
    "view": {"stroke": null},
    "axis": {"labelFont": "Roboto", "labelFontSize": 17, "labelColor": "#2b2b2b", "titleFont": "Inter", "titleFontSize": 17, "titleFontWeight": 700, "titleColor": "#111111", "gridColor": "#e9e9ee", "gridWidth": 1.5, "tickColor": "#e2e2e8", "tickWidth": 1.5, "domainColor": "#e9e9ee", "domainWidth": 1.5}
  }
}
